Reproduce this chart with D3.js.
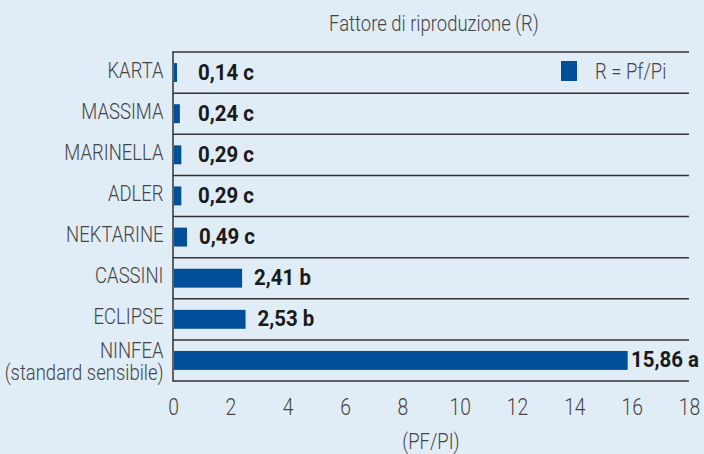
<!DOCTYPE html>
<html><head><meta charset="utf-8">
<script src="https://cdn.jsdelivr.net/npm/d3@7"></script>
<style>
html,body{margin:0;padding:0;background:#e0ecf6;}
svg{display:block;}
text{font-family:Roboto,"Liberation Sans",sans-serif;}
</style></head>
<body>
<svg id="c" width="704" height="454"></svg>
<script>
const categories = ["KARTA","MASSIMA","MARINELLA","ADLER","NEKTARINE","CASSINI","ECLIPSE","NINFEA\n(standard sensibile)"];
const values = [0.14,0.24,0.29,0.29,0.49,2.41,2.53,15.86];
const valueLabels = ["0,14 c","0,24 c","0,29 c","0,29 c","0,49 c","2,41 b","2,53 b","15,86 a"];
const ticks = [0,2,4,6,8,10,12,14,16,18];
const title = "Fattore di riproduzione (R)";
const axisTitle = "(PF/PI)";
const legendLabel = "R = Pf/Pi";

const W = 704, H = 454;
const m = {left:173, right:15, top:52, bottom:73};
const svg = d3.select("#c");
const bg = "#e0ecf6", barColor = "#004f98", lineColor = "#333", textColor = "#444";
const SX = 0.84;  // condensed look for light text
const SXB = 0.93; // condensed look for bold text

svg.append("rect").attr("width",W).attr("height",H).attr("fill",bg);

function label(parent, x, y, str, o) {
  const g = parent.append("g").attr("transform", `translate(${x},${y}) scale(${o.sx||SX},1)`);
  const t = g.append("text").attr("x",0).attr("y",0)
    .attr("text-anchor", o.anchor||"start")
    .attr("font-size", o.size||21)
    .attr("font-weight", o.weight||300)
    .attr("fill", o.fill||textColor);
  const lines = String(str).split("\n");
  if (lines.length === 1) t.text(str);
  else lines.forEach((ln,k)=> t.append("tspan").attr("x",0).attr("dy", k===0 ? 0 : o.lh).text(ln));
  return t;
}

const x = d3.scaleLinear().domain([0,18]).range([m.left, W-m.right]);
const y = d3.scaleBand().domain(categories).range([m.top, H-m.bottom]).padding(0);
const bh = y.bandwidth()*0.46;

// row lines
const bounds = categories.map(c => y(c)).concat([y(categories[categories.length-1]) + y.bandwidth()]);
svg.append("g").selectAll("line").data(bounds).join("line")
  .attr("x1", x(0)).attr("x2", x(18))
  .attr("y1", d=>d).attr("y2", d=>d)
  .attr("stroke", lineColor).attr("stroke-width",1.5);

// bars
svg.append("g").selectAll("rect").data(values).join("rect")
  .attr("x", x(0)+1)
  .attr("y", (d,i)=> y(categories[i]) + (y.bandwidth()-bh)/2)
  .attr("width", d => x(d)-x(0)-1)
  .attr("height", bh)
  .attr("fill", barColor);

// left axis line
svg.append("line").attr("x1",x(0)).attr("x2",x(0)).attr("y1",m.top-0.75).attr("y2",H-m.bottom+0.75)
  .attr("stroke",lineColor).attr("stroke-width",1.5);

// value labels
const gv = svg.append("g");
values.forEach((v,i)=>{
  const cy = y(categories[i]) + y.bandwidth()/2;
  let px = Math.max(x(v)+12, x(0)+25);
  const t = label(gv, 0, 0, valueLabels[i], {size:22, weight:"bold", fill:"#1a1a1a", sx:SXB});
  const w = t.node().getComputedTextLength()*SXB;
  px = Math.min(px, W - 5 - w);
  d3.select(t.node().parentNode).attr("transform", `translate(${px},${cy+7}) scale(${SXB},1)`);
});

// category labels
const gc = svg.append("g");
categories.forEach(c=>{
  const n = c.split("\n").length;
  const cy = y(c) + y.bandwidth()/2;
  label(gc, x(0)-9.5, cy + (n>1 ? -2.5 : 5), c, {size:22, anchor:"end", lh:22});
});

// x axis tick labels
const ax = d3.axisBottom(x).tickValues(ticks).tickSize(0).tickPadding(0).tickFormat(d3.format("d"));
const gx = svg.append("g").attr("transform",`translate(0,${H-m.bottom})`).call(ax);
gx.select(".domain").remove();
gx.selectAll(".tick text").remove();
gx.selectAll(".tick").each(function(d){
  label(d3.select(this), 0, 34, String(d), {size:23, anchor:"middle"});
});

// titles
label(svg, (x(0)+x(18))/2+3, 31, title, {size:22, anchor:"middle"});
label(svg, (x(0)+x(18))/2, 449, axisTitle, {size:22, anchor:"middle"});

// legend
svg.append("rect").attr("x",561).attr("y",61).attr("width",16).attr("height",20).attr("fill",barColor);
label(svg, 595, 79, legendLabel, {size:22});
</script>
</body></html>
